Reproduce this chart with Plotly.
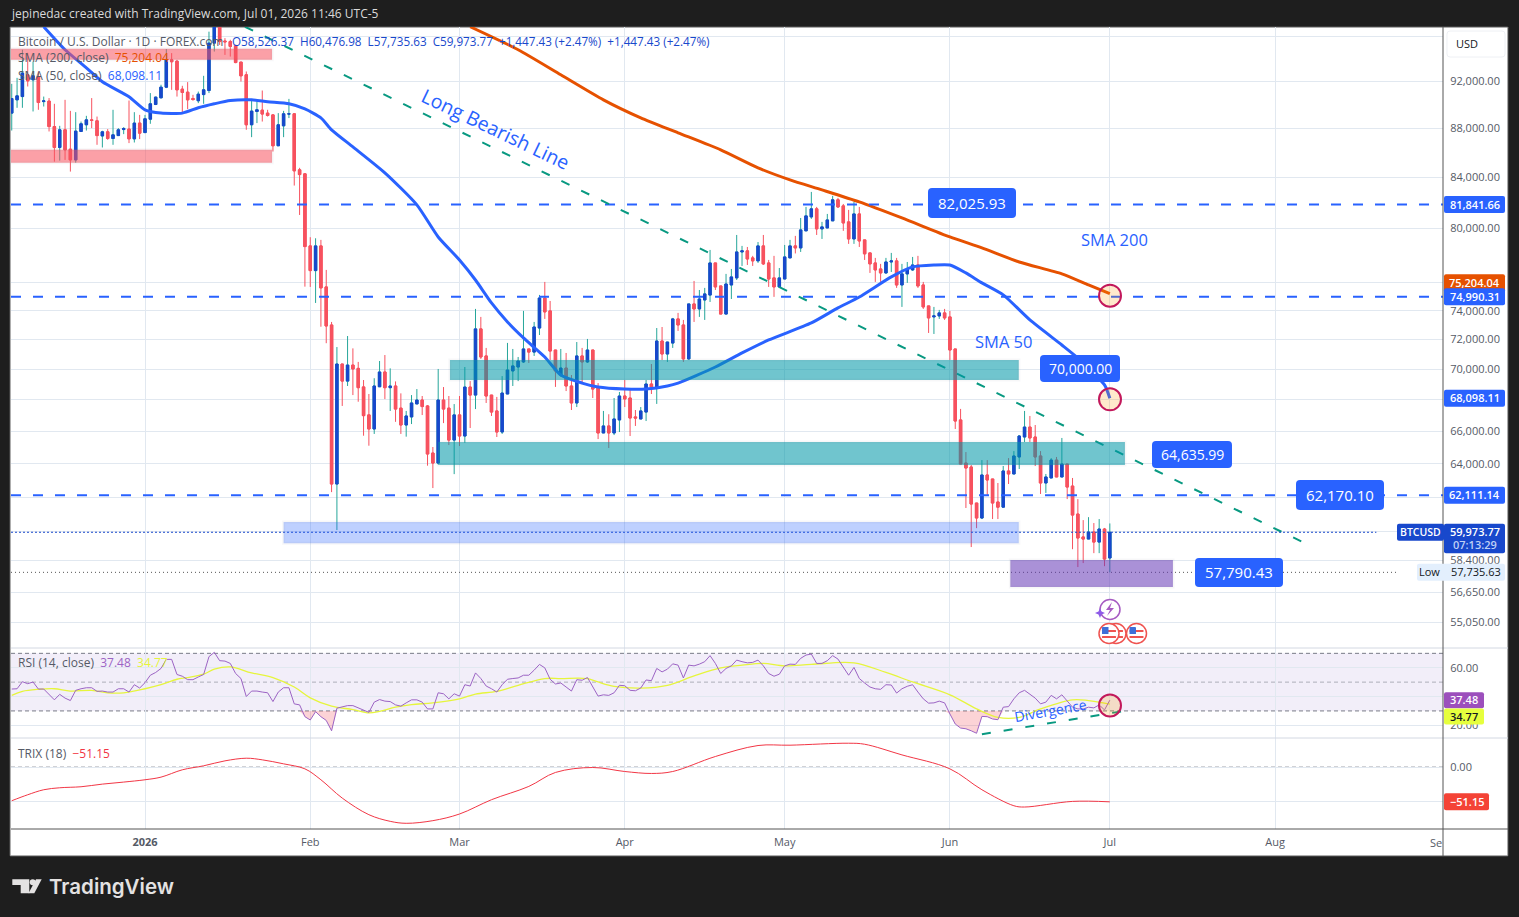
import numpy as np
import pandas as pd
import plotly.graph_objects as go

# daily bars, Dec 7 2025 to Jul 1 2026
dates = pd.date_range("2025-12-07", "2026-07-01", freq="D")

opens = [
    89140, 90270, 90550, 92440, 92000, 92290, 90120, 90160, 88010, 86280, 87740, 86140, 85270, 87600, 88160, 88570, 88490, 87230, 87570, 87020, 87260, 87760, 87800, 86990, 88300,
    87510, 88630, 89870, 90440, 91360, 93760, 93640, 91190, 90930, 90380, 90190, 90720, 91070, 95260, 97300, 95450, 95400, 95050, 93560, 92440, 88160, 89280, 89390, 89140, 88990, 86420, 88070, 89060, 89080, 84470, 84150,
    78590, 76770, 78590, 75590, 72910, 62700, 70260, 69130, 70190, 69970, 68750, 66950, 66060, 68760, 69730, 68700, 68810, 67380, 66310, 66820, 67650, 67900, 67520, 64570, 63960, 67900, 67380, 65370,
    66950, 65620, 68740, 68220, 72640, 70800, 68220, 67200, 65870, 68290, 69800, 70060, 70400, 71270, 71060, 72700, 74800, 73890, 71200, 69530, 69990, 68810, 67710, 70800, 70400, 71200, 68680, 65810, 66250, 65810, 66630,
    68160, 68030, 66820, 66690, 67130, 68940, 68740, 71810, 70930, 71670, 73330, 72910, 70600, 74380, 74030, 74660, 75010, 77330, 75660, 73670, 75730, 76240, 78140, 78220, 77700, 77480, 78590, 77330, 76240, 75590,
    76160, 77700, 78590, 78440, 79720, 80780, 81400, 79870, 79940, 80480, 82100, 81630, 80400, 79110, 81010, 79040, 78070, 77330, 76890, 76600, 77400, 77480, 75730, 76530, 76820, 77180, 75730, 74240, 73470, 73540, 73750,
    73470, 71270, 66630, 63960, 63720, 61580, 60710, 63240, 63000, 61640, 61340, 63480, 63300, 64330, 65560, 66180, 65560, 64390, 62760, 63060, 64140, 63120, 63900, 62580, 60940, 59630, 59510, 59910, 59340, 60080,
    58526.37,
]
highs = [
    91650, 92170, 94660, 94390, 93600, 92730, 90550, 90420, 89930, 88070, 90270, 89330, 89220, 88430, 88910, 90420, 88850, 87660, 87800, 89420, 87880, 87960, 90210, 89220, 88990,
    88990, 90850, 90550, 91570, 94720, 94360, 93760, 91480, 91800, 90700, 90980, 92350, 96300, 98000, 98000, 95710, 95560, 95110, 93560, 92730, 90270, 90120, 91070, 89420, 89060, 89140, 89330, 90350, 89140, 84630, 84200,
    79240, 79160, 79040, 76820, 73120, 71400, 70260, 72150, 71310, 70400, 69200, 68290, 69320, 70460, 70860, 69970, 69110, 68330, 67200, 68220, 68610, 68160, 67580, 64940, 69930, 68740, 68160, 67640,
    68160, 70060, 69130, 74030, 73470, 71340, 68220, 68100, 69460, 71680, 71270, 70730, 73890, 71270, 73120, 75020, 75950, 74590, 71200, 71270, 71000, 69530, 71740, 71340, 71950, 71200, 69000, 67200, 66990, 68030, 68420,
    69200, 68550, 67260, 67450, 69200, 70260, 72700, 72770, 71740, 73400, 73750, 73260, 74380, 76020, 75370, 75520, 78290, 77330, 75660, 76530, 76890, 79410, 78590, 78510, 77850, 78880, 79410, 77550, 77850, 76960,
    78660, 79040, 79340, 80700, 81550, 82720, 81550, 80400, 81010, 82410, 82250, 81780, 81320, 81940, 81550, 79040, 78070, 77700, 77260, 77700, 78070, 77700, 77260, 77400, 77770, 77850, 75950, 74240, 74170, 73960, 74030,
    73890, 71270, 67330, 64630, 63840, 61580, 64140, 64140, 63000, 62760, 63780, 64260, 64690, 65680, 67200, 66880, 66310, 64690, 63300, 64260, 64330, 65500, 63900, 63060, 61810, 60590, 60760, 60420, 60650, 60140,
    60476.98,
]
lows = [
    87680, 89590, 89590, 91420, 89280, 89420, 89700, 87600, 85130, 85210, 85270, 84330, 85050, 87600, 87680, 87880, 86500, 86280, 86910, 86500, 87240, 87380, 86640, 86690, 86970,
    87460, 88240, 89820, 90420, 91280, 91130, 90550, 89140, 89480, 90190, 89990, 89930, 90850, 94500, 95100, 94200, 94050, 93460, 91850, 87740, 87130, 88300, 88430, 88850, 85950, 86420, 87130, 88720, 83220, 80930, 75610,
    75590, 74450, 72790, 71660, 62220, 60020, 67520, 68810, 68220, 67790, 65640, 65020, 65750, 68760, 67960, 67200, 66510, 65750, 65580, 66370, 67650, 66940, 63800, 62460, 63880, 66430, 65060, 63290,
    65000, 65200, 66120, 67320, 70600, 67710, 66880, 65560, 65750, 68290, 68810, 69130, 70330, 70330, 70800, 72220, 73330, 70530, 68750, 69420, 68480, 67260, 67450, 69000, 70330, 68030, 65430, 65810, 64880, 65680, 65870,
    67450, 65620, 66250, 66690, 66560, 68290, 67650, 70530, 70400, 71340, 72500, 70400, 70530, 73120, 73470, 73260, 74520, 75370, 73670, 73670, 74730, 76090, 77110, 77180, 77110, 77330, 77180, 75590, 74880, 75590,
    76160, 77700, 78030, 78140, 79720, 80630, 79410, 79110, 79940, 80480, 81470, 79720, 78740, 78740, 78510, 77550, 76600, 75950, 75950, 76530, 76670, 75520, 74170, 75880, 76750, 75520, 74030, 72360, 72290, 73330, 73260,
    70530, 66060, 63900, 61290, 59060, 60130, 60650, 62050, 60650, 60650, 61340, 62700, 63300, 63600, 65250, 65250, 63780, 62110, 62170, 63060, 63120, 63120, 61810, 58940, 57950, 58170, 59510, 58720, 58720, 58000,
    57735.63,
]
closes = [
    90380, 90610, 92590, 91910, 92350, 90040, 90180, 88010, 86280, 87740, 86090, 85270, 87630, 88240, 88570, 88520, 87260, 87570, 87020, 87320, 87740, 87850, 86990, 88300, 87460,
    88660, 89930, 90500, 91360, 93760, 93590, 91130, 90900, 90270, 90300, 90760, 91130, 95260, 97500, 95400, 95380, 94960, 93520, 92350, 88160, 89310, 89420, 89060, 88940, 86420, 88160, 89080, 89080, 84390, 84090, 78540,
    76770, 78590, 75520, 72840, 62700, 70260, 69130, 70190, 69930, 68700, 66900, 66060, 68810, 69730, 68700, 68810, 67320, 66310, 66880, 67710, 67900, 67480, 64510, 63960, 67900, 67320, 65370, 66950,
    65620, 68740, 68220, 72640, 70730, 68160, 67130, 65870, 68350, 69860, 70130, 70460, 71270, 71060, 72770, 74800, 73820, 71130, 69800, 69990, 68810, 67710, 70800, 70400, 71200, 68610, 65810, 66250, 65810, 66690, 68160,
    67970, 66750, 66750, 67200, 68940, 68740, 71810, 70930, 71740, 73330, 72910, 70600, 74380, 74030, 74730, 75090, 77330, 75590, 73670, 75800, 76310, 78140, 78220, 77620, 77480, 78590, 77260, 76160, 75590, 76240,
    77770, 78590, 78440, 79790, 80860, 81400, 79870, 80020, 80550, 82100, 81550, 80320, 79110, 81010, 78960, 78000, 77260, 76820, 76600, 77400, 77480, 75730, 76530, 76890, 77180, 75660, 74170, 73400, 73540, 73750, 73400,
    71200, 66560, 63900, 63660, 61520, 60710, 63240, 62940, 61580, 61340, 63480, 63300, 64390, 65620, 66180, 65500, 64330, 62760, 63120, 64140, 63120, 63900, 62520, 60880, 59570, 59510, 59910, 59340, 60080, 58390,
    59973.77,
]

# moving averages, read at the bends of each curve
sma50_dates = ["2025-12-13", "2025-12-17", "2025-12-21", "2025-12-24", "2025-12-29", "2026-01-01", "2026-01-04", "2026-01-08", "2026-01-11", "2026-01-14", "2026-01-17", "2026-01-21", "2026-01-24", "2026-01-28", "2026-01-31", "2026-02-03", "2026-02-05", "2026-02-09", "2026-02-15", "2026-02-21", "2026-02-25", "2026-03-01", "2026-03-04", "2026-03-07", "2026-03-10", "2026-03-13", "2026-03-17", "2026-03-20", "2026-03-24", "2026-03-27", "2026-04-01", "2026-04-05", "2026-04-09", "2026-04-11", "2026-04-18", "2026-04-23", "2026-04-28", "2026-05-06", "2026-05-11", "2026-05-15", "2026-05-21", "2026-05-25", "2026-05-29", "2026-06-01", "2026-06-04", "2026-06-07", "2026-06-11", "2026-06-16", "2026-06-22", "2026-06-25", "2026-06-30", "2026-07-01"]
sma50 = [96750, 94660, 93050, 91830, 90530, 89420, 89140, 89140, 89590, 89930, 90210, 90270, 90100, 89930, 89500, 88740, 87740, 86330, 84230, 81710, 79260, 77550, 76090, 74450, 73120, 72020, 70730, 69530, 69000, 68740, 68610, 68610, 68810, 69000, 70060, 71000, 71880, 73050, 74100, 74870, 76310, 77040, 77180, 77180, 76600, 75880, 75020, 73260, 71540, 70660, 68880, 68098.11]

sma200_dates = ["2026-03-03", "2026-03-12", "2026-03-20", "2026-03-28", "2026-04-04", "2026-04-11", "2026-04-19", "2026-04-26", "2026-05-02", "2026-05-08", "2026-05-15", "2026-05-23", "2026-06-01", "2026-06-07", "2026-06-14", "2026-06-22", "2026-06-27", "2026-07-01"]
sma200 = [96750, 94660, 92440, 90270, 88740, 87490, 86085, 84630, 83670, 82880, 81940, 80700, 79260, 78440, 77400, 76530, 75730, 75204.04]

rsi = [
    45.2, 45.4, 50.3, 48.9, 50.1, 45.2, 45.2, 41.5, 37.7, 41.5, 38.9, 37.2, 44.3, 45.4, 46.1, 46.1, 43.6, 43.8, 43.1, 43.1, 45.4, 45.4, 43.1, 48.2, 45.9,
    49.6, 54.8, 56.7, 59.5, 65.8, 65.8, 55.3, 54.1, 51.7, 51.7, 53.6, 55.3, 67.7, 70.7, 64.9, 64.6, 63.0, 56.0, 52.5, 40.0, 43.8, 43.8, 43.1, 42.6, 36.5, 43.1, 46.1, 46.1, 34.9, 34.2, 26.0,
    23.7, 29.5, 26.0, 23.4, 16.2, 31.9, 33.0, 33.7, 33.7, 32.1, 30.2, 29.0, 36.1, 37.9, 36.8, 36.5, 34.2, 33.3, 35.6, 37.7, 37.7, 36.1, 31.4, 31.4, 42.6, 41.9, 38.4, 41.9,
    40.3, 48.2, 47.3, 56.4, 52.5, 47.3, 45.4, 43.1, 48.2, 52.0, 52.5, 52.9, 54.8, 54.8, 58.3, 62.3, 59.9, 52.0, 48.7, 49.4, 46.6, 43.8, 51.7, 51.3, 53.2, 46.6, 40.3, 41.2, 40.8, 42.6, 47.8,
    47.5, 44.3, 44.0, 45.9, 51.5, 51.0, 59.5, 57.1, 59.0, 62.7, 61.8, 52.9, 61.8, 61.3, 62.5, 64.2, 68.4, 63.0, 56.0, 59.5, 61.3, 65.3, 64.2, 63.4, 63.7, 65.3, 61.3, 56.0, 54.1, 55.5,
    61.3, 62.5, 62.3, 66.5, 68.8, 69.5, 63.0, 63.0, 64.9, 68.4, 66.0, 60.6, 54.8, 60.2, 52.5, 49.4, 46.6, 45.4, 45.0, 48.2, 48.0, 42.4, 45.4, 47.1, 48.2, 43.1, 38.4, 35.4, 35.6, 36.8, 35.6,
    27.9, 20.9, 18.1, 17.6, 16.2, 14.5, 26.2, 26.0, 24.4, 23.9, 32.6, 33.0, 38.4, 42.6, 44.3, 41.9, 38.9, 34.9, 36.1, 40.8, 38.4, 41.2, 37.2, 32.6, 31.4, 31.4, 32.6, 32.1, 34.2, 30.7,
    37.48,
]

rsi_ma_dates = ["2025-12-07", "2025-12-09", "2025-12-12", "2025-12-15", "2025-12-18", "2025-12-22", "2025-12-25", "2025-12-28", "2026-01-01", "2026-01-04", "2026-01-07", "2026-01-09", "2026-01-12", "2026-01-14", "2026-01-17", "2026-01-21", "2026-01-25", "2026-01-29", "2026-02-01", "2026-02-05", "2026-02-09", "2026-02-12", "2026-02-14", "2026-02-17", "2026-02-20", "2026-02-24", "2026-03-01", "2026-03-04", "2026-03-08", "2026-03-12", "2026-03-17", "2026-03-20", "2026-03-25", "2026-03-27", "2026-03-30", "2026-04-04", "2026-04-09", "2026-04-14", "2026-04-19", "2026-04-23", "2026-04-27", "2026-05-01", "2026-05-06", "2026-05-14", "2026-05-20", "2026-05-25", "2026-06-01", "2026-06-06", "2026-06-10", "2026-06-14", "2026-06-18", "2026-06-24", "2026-06-27", "2026-07-01"]
rsi_ma = [40.8, 43.6, 45.0, 45.4, 43.8, 44.3, 42.6, 42.6, 45.4, 48.2, 52.0, 53.2, 55.5, 59.0, 60.6, 56.4, 53.2, 46.6, 39.1, 33.3, 30.9, 28.6, 29.7, 32.6, 34.4, 35.6, 38.4, 41.7, 43.6, 47.8, 52.5, 52.5, 52.5, 50.1, 47.1, 45.9, 47.8, 54.3, 59.9, 61.8, 63.0, 61.3, 62.3, 63.4, 56.7, 50.1, 41.2, 31.4, 25.5, 25.5, 31.4, 37.7, 37.2, 34.77]

trix_dates = ["2025-12-07", "2025-12-10", "2025-12-13", "2025-12-16", "2025-12-20", "2025-12-24", "2025-12-28", "2026-01-01", "2026-01-04", "2026-01-08", "2026-01-12", "2026-01-16", "2026-01-20", "2026-01-23", "2026-01-27", "2026-01-31", "2026-02-03", "2026-02-07", "2026-02-12", "2026-02-16", "2026-02-19", "2026-02-24", "2026-03-01", "2026-03-07", "2026-03-14", "2026-03-19", "2026-03-26", "2026-04-01", "2026-04-06", "2026-04-10", "2026-04-18", "2026-04-26", "2026-05-02", "2026-05-13", "2026-05-16", "2026-05-23", "2026-06-01", "2026-06-07", "2026-06-13", "2026-06-15", "2026-06-24", "2026-07-01"]
trix = [-49.5, -40.7, -33.3, -30.4, -28.9, -25.0, -22.0, -18.6, -14.7, -3.9, 2.0, 9.3, 13.2, 10.8, 4.9, -2.5, -18.6, -45.6, -70.1, -79.9, -82.8, -78.9, -69.1, -48.0, -28.4, -7.8, -0.5, -6.4, -9.3, -6.4, 15.7, 31.9, 32.4, 35.3, 33.8, 18.1, -2.5, -33.3, -56.9, -58.8, -50.5, -51.15]

# axis ticks
month_ticks = ["2026-01-01", "2026-02-01", "2026-03-01", "2026-04-01", "2026-05-01", "2026-06-01", "2026-07-01", "2026-08-01"]
month_labels = ["<b>2026</b>", "Feb", "Mar", "Apr", "May", "Jun", "Jul", "Aug"]
price_ticks = [96000, 92000, 88000, 84000, 80000, 76000, 74000, 72000, 70000, 68000, 66000, 64000, 62000, 60000, 58400, 56650, 55050]
price_labels = ["", "92,000.00", "88,000.00", "84,000.00", "80,000.00", "", "74,000.00", "72,000.00", "70,000.00", "", "66,000.00", "64,000.00", "", "", "58,400.00", "56,650.00", "55,050.00"]

# drawn levels and zones
level_prices = [81841.66, 74990.31, 62111.14]
last_price = 59973.77
low_price = 57735.63
trend_x = ["2026-01-19 18:00", "2026-08-06 14:00"]
trend_y = [96750, 59280]
div_x = ["2026-06-07", "2026-07-03 08:00"]
div_y = [13.8, 29.8]
zones = [
    ("2025-12-06", "2026-01-24 20:00", 93763, 94750, "rgba(247,82,95,0.55)"),
    ("2025-12-06", "2026-01-24 20:00", 85030, 86085, "rgba(247,82,95,0.55)"),
    ("2026-02-27 05:00", "2026-06-13 22:00", 69202, 70528, "rgba(0,151,167,0.56)"),
    ("2026-02-25", "2026-07-03 20:00", 63840, 65250, "rgba(0,151,167,0.56)"),
    ("2026-01-27", "2026-06-13 22:00", 59280, 60480, "rgba(41,98,255,0.3)"),
    ("2026-06-12 08:00", "2026-07-12 20:00", 56860, 58334, "rgba(103,58,183,0.56)"),
]

# prices above were read with a scale about a pixel off, this puts them back
READ_FIX = 1.0013


def refit(values):
    # the last value of a series is printed on the chart, so it stays exact
    return [v * READ_FIX for v in values[:-1]] + [values[-1]]


# layout of the page, pixels
PLOT_L, PLOT_R, PLOT_T, PLOT_B = 11, 1443, 27, 829
PRICE_B, RSI_B = 648, 738
PRICE_TOP, PRICE_BOT = 96853, 53737
RSI_TOP, RSI_BOT = 73.7, 11.2
TRIX_TOP, TRIX_BOT = 43.0, -91.2
X_LEFT, X_RIGHT = "2025-12-06 20:40", "2026-09-01 12:00"
LAST_BAR_X = 1110

BLUE = "#2962FF"
DARK_BLUE = "#1848CC"
RED = "#F7525F"
TEAL = "#26A69A"
LINE_TEAL = "#089981"
ORANGE = "#E65100"
GRID = "#E1E8F0"
TXT = "#555A66"
FONT = "Open Sans"


def px(x):
    return (x - PLOT_L) / (PLOT_R - PLOT_L)


def py(y):
    return (PLOT_B - y) / (PLOT_B - PLOT_T)


def price_y(p):
    span = np.log10(PRICE_TOP) - np.log10(PRICE_BOT)
    return PLOT_T + (np.log10(PRICE_TOP) - np.log10(p)) / span * (PRICE_B - PLOT_T)


def rsi_y(v):
    return PRICE_B + (RSI_TOP - v) / (RSI_TOP - RSI_BOT) * (RSI_B - PRICE_B)


def trix_y(v):
    return RSI_B + (TRIX_TOP - v) / (TRIX_TOP - TRIX_BOT) * (PLOT_B - RSI_B)


def box_path(x0, y0, x1, y1, r):
    pts = [
        ("M", x0 + r, y0), ("L", x1 - r, y0), ("Q", x1, y0, x1, y0 + r), ("L", x1, y1 - r),
        ("Q", x1, y1, x1 - r, y1), ("L", x0 + r, y1), ("Q", x0, y1, x0, y1 - r), ("L", x0, y0 + r),
        ("Q", x0, y0, x0 + r, y0),
    ]
    out = []
    for p in pts:
        vals = p[1:]
        coords = []
        for i in range(0, len(vals), 2):
            coords.append(f"{px(vals[i]):.5f},{py(vals[i + 1]):.5f}")
        out.append(p[0] + " ".join(coords))
    return " ".join(out) + " Z"


def poly_path(points):
    return "M" + " L".join(f"{px(a):.5f},{py(b):.5f}" for a, b in points) + " Z"


shapes = []
notes = []


def paper_shape(path, fill, line=None, width=0, layer="above"):
    shapes.append(dict(type="path", xref="paper", yref="paper", path=path, fillcolor=fill,
                       line=dict(color=line or fill, width=width), layer=layer))


def paper_line(x0, y0, x1, y1, color, width=1, dash="solid", layer="above"):
    shapes.append(dict(type="line", xref="paper", yref="paper", x0=px(x0), y0=py(y0), x1=px(x1), y1=py(y1),
                       line=dict(color=color, width=width, dash=dash), layer=layer))


def paper_circle(cx, cy, r, fill, line, width):
    shapes.append(dict(type="circle", xref="paper", yref="paper", x0=px(cx - r), x1=px(cx + r), y0=py(cy + r), y1=py(cy - r),
                       fillcolor=fill, line=dict(color=line, width=width), layer="above"))


def text(x, y, s, size=11, color=TXT, anchor="left", angle=0, weight=None, family=FONT):
    # annotations carry about a pixel of padding
    if anchor == "left":
        x = x - 1.5
    notes.append(dict(xref="paper", yref="paper", x=px(x), y=py(y - 1), text=s, showarrow=False, xanchor=anchor,
                      yanchor="middle", textangle=angle, borderpad=0,
                      font=dict(family=family, size=size, color=color, weight=weight)))


def badge(x0, y0, x1, y1, s, fill, color="white", size=11, r=2, weight=600):
    paper_shape(box_path(x0, y0, x1, y1, r), fill)
    text((x0 + x1) / 2, (y0 + y1) / 2 + 0.5, s, size=size, color=color, anchor="center", weight=weight)


# white chart card on the dark page
paper_shape(box_path(10, 27, 1508, 856, 0.5), "white", "#5A5A5A", 1, layer="below")

dates_str = dates.strftime("%Y-%m-%d").tolist()
o_fit, h_fit, l_fit, c_fit = refit(opens), refit(highs), refit(lows), refit(closes)
body_top = [max(o, c) for o, c in zip(o_fit, c_fit)]
body_bot = [min(o, c) for o, c in zip(o_fit, c_fit)]

fig = go.Figure()

# wicks, bodies are painted over them
fig.add_trace(go.Candlestick(
    x=dates_str, open=o_fit, high=h_fit, low=l_fit, close=c_fit, yaxis="y", xaxis="x",
    increasing=dict(line=dict(color=TEAL, width=1), fillcolor=DARK_BLUE),
    decreasing=dict(line=dict(color=RED, width=1), fillcolor=RED),
    whiskerwidth=0, hoverinfo="skip", showlegend=False,
))
fig.add_trace(go.Candlestick(
    x=dates_str, open=o_fit, high=body_top, low=body_bot, close=c_fit, yaxis="y", xaxis="x",
    increasing=dict(line=dict(color=DARK_BLUE, width=1), fillcolor=DARK_BLUE),
    decreasing=dict(line=dict(color=RED, width=1), fillcolor=RED),
    whiskerwidth=0, hoverinfo="skip", showlegend=False,
))

fig.add_trace(go.Scatter(x=sma50_dates, y=refit(sma50), mode="lines", yaxis="y", line=dict(color=BLUE, width=3, shape="spline", smoothing=0.6), hoverinfo="skip", showlegend=False))
fig.add_trace(go.Scatter(x=sma200_dates, y=refit(sma200), mode="lines", yaxis="y", line=dict(color=ORANGE, width=3, shape="spline", smoothing=0.6), hoverinfo="skip", showlegend=False))

for level in level_prices:
    fig.add_trace(go.Scatter(x=[X_LEFT, X_RIGHT], y=[level, level], mode="lines", yaxis="y", line=dict(color=BLUE, width=2, dash="10px,12px"), hoverinfo="skip", showlegend=False))
fig.add_trace(go.Scatter(x=trend_x, y=[v * READ_FIX for v in trend_y], mode="lines", yaxis="y", line=dict(color=LINE_TEAL, width=2, dash="9px,13px"), hoverinfo="skip", showlegend=False))
fig.add_trace(go.Scatter(x=[X_LEFT, "2026-08-20"], y=[last_price, last_price], mode="lines", yaxis="y", line=dict(color=DARK_BLUE, width=1, dash="2px,2px"), hoverinfo="skip", showlegend=False))
fig.add_trace(go.Scatter(x=[X_LEFT, "2026-08-24"], y=[low_price, low_price], mode="lines", yaxis="y", line=dict(color="#555555", width=1, dash="1px,3px"), hoverinfo="skip", showlegend=False))

# RSI pane, shading under the 30 level
rsi_low = [min(v, 30) for v in rsi]
fig.add_trace(go.Scatter(x=dates_str, y=[30] * len(rsi), mode="lines", yaxis="y2", line=dict(width=0), hoverinfo="skip", showlegend=False))
fig.add_trace(go.Scatter(x=dates_str, y=rsi_low, mode="lines", yaxis="y2", line=dict(width=0), fill="tonexty", fillcolor="rgba(242,54,69,0.22)", hoverinfo="skip", showlegend=False))
fig.add_trace(go.Scatter(x=rsi_ma_dates, y=rsi_ma, mode="lines", yaxis="y2", line=dict(color="#E6F53C", width=1.3, shape="spline"), hoverinfo="skip", showlegend=False))
fig.add_trace(go.Scatter(x=dates_str, y=rsi, mode="lines", yaxis="y2", line=dict(color="#9C64C4", width=1), hoverinfo="skip", showlegend=False))
fig.add_trace(go.Scatter(x=div_x, y=div_y, mode="lines", yaxis="y2", line=dict(color=LINE_TEAL, width=2, dash="9px,13px"), hoverinfo="skip", showlegend=False))

# TRIX pane
fig.add_trace(go.Scatter(x=trix_dates, y=trix, mode="lines", yaxis="y3", line=dict(color="#F23645", width=1, shape="spline"), hoverinfo="skip", showlegend=False))

# zones sit over the bars
for x0, x1, y0, y1, color in zones:
    shapes.append(dict(type="rect", xref="x", yref="y", x0=x0, x1=x1, y0=y0 * READ_FIX, y1=y1 * READ_FIX, fillcolor=color,
                       line=dict(color="rgba(120,123,134,0.06)", width=3), layer="above"))

# RSI band and levels
shapes.append(dict(type="rect", xref="x", yref="y2", x0=X_LEFT, x1=X_RIGHT, y0=30, y1=70, fillcolor="rgba(126,87,194,0.1)", line=dict(width=0), layer="below"))
for lvl, col in [(70, "#787B86"), (50, "rgba(120,123,134,0.55)"), (30, "#787B86")]:
    shapes.append(dict(type="line", xref="x", yref="y2", x0=X_LEFT, x1=X_RIGHT, y0=lvl, y1=lvl, line=dict(color=col, width=1, dash="4px,3px"), layer="below"))
shapes.append(dict(type="line", xref="x", yref="y3", x0=X_LEFT, x1=X_RIGHT, y0=0, y1=0, line=dict(color="#787B86", width=1, dash="4px,3px"), layer="below"))

# circles on the last bar
for cy in [price_y(74990.31) - 1, price_y(68098.11) + 1, rsi_y(33.8)]:
    paper_circle(LAST_BAR_X, cy, 11, "rgba(255,152,0,0.2)", "#C2185B", 2)

# pane and axis borders
paper_line(11, 648, 1508, 648, "#D3D8E2")
paper_line(11, 738, 1508, 738, "#D3D8E2")
paper_line(11, 829, 1508, 829, "#555555")
paper_line(1443, 27, 1443, 856, "#555555")

# callouts
badge(928, 188, 1016, 218, "82,025.93", BLUE, size=15, r=4, weight=500)
badge(1040, 355, 1120, 382, "70,000.00", BLUE, size=14, r=4, weight=500)
badge(1152, 441, 1232, 468, "64,635.99", BLUE, size=14, r=4, weight=500)
badge(1296, 480, 1384, 510, "62,170.10", BLUE, size=15, r=4, weight=500)
badge(1195, 558, 1283, 587, "57,790.43", BLUE, size=15, r=4, weight=500)

text(1114, 241, "SMA 200", size=16.5, color=BLUE, anchor="center")
text(1003, 342, "SMA 50", size=16.5, color=BLUE, anchor="center")
text(495, 130, "Long Bearish Line", size=19.5, color=BLUE, anchor="center", angle=25.5)
text(1050, 711, "Divergence", size=14, color=BLUE, anchor="center", angle=-10)

# price scale badges
for value, fill, shift in [(81841.66, BLUE, 0), (75204.04, ORANGE, -11), (74990.31, BLUE, 0), (68098.11, BLUE, 0), (62111.14, BLUE, 0)]:
    yc = price_y(value) + shift
    badge(1444, yc - 8.5, 1505, yc + 8.5, f"{value:,.2f}", fill)

yc = price_y(last_price)
badge(1397, yc - 8.5, 1444, yc + 8.5, "BTCUSD", DARK_BLUE, size=10.5)
paper_shape(box_path(1444, yc - 8.5, 1505, yc + 21, 2), DARK_BLUE)
text(1474.5, yc + 0.5, f"{last_price:,.2f}", color="white", anchor="center", weight=600)
text(1474.5, yc + 13.5, "07:13:29", color="#BFD0F5", anchor="center", weight=600)

yc = price_y(low_price)
paper_shape(box_path(1417, yc - 8.5, 1505, yc + 8.5, 2), "#E3EFFD")
text(1429, yc + 0.5, "Low", color="#131722", anchor="center")
text(1476, yc + 0.5, f"{low_price:,.2f}", color="#131722", anchor="center", weight=500)

badge(1444, rsi_y(37.48) - 8, 1484, rsi_y(37.48) + 8, "37.48", "#9C4FBC")
badge(1444, rsi_y(34.77) + 4.5, 1484, rsi_y(34.77) + 20.5, "34.77", "#E6FF3D", color="#131722")
badge(1444, trix_y(-51.15) - 8.5, 1489, trix_y(-51.15) + 8.5, "−51.15", "#F44336")

# currency button
paper_shape(box_path(1447, 31, 1505, 57, 3), "white", "#EEF0F4", 1)
text(1456, 45, "USD", color="#131722")

# clipped label at the right end of the time scale
text(1443, 843, "Se", anchor="right")

# legends
text(18, 42, "Bitcoin / U.S. Dollar · 1D · FOREX.com", size=12)
text(232, 42, "O58,526.37  H60,476.98  L57,735.63  C59,973.77  +1,447.43 (+2.47%)  +1,447.43 (+2.47%)", size=11.7, color=DARK_BLUE)
text(18, 59, f"SMA (200, close)  <span style='color:{ORANGE}'>75,204.04</span>", size=12)
text(18, 76, f"SMA (50, close)  <span style='color:{BLUE}'>68,098.11</span>", size=12)
text(18, 663, "RSI (14, close)  <span style='color:#9C64C4'>37.48</span>  <span style='color:#E6F53C'>34.77</span>", size=12)
text(18, 754, "TRIX (18)  <span style='color:#F23645'>−51.15</span>", size=12)

# event markers under the last bar
paper_circle(1110, 609.5, 10, "white", "#A65BC2", 1.5)
paper_shape(poly_path([(1112, 602), (1106, 610), (1110, 610), (1107, 616), (1114, 608), (1110, 608)]), "#A65BC2")
paper_shape(poly_path([(1100, 608), (1101.5, 611.5), (1105, 613), (1101.5, 614.5), (1100, 618), (1098.5, 614.5), (1095, 613), (1098.5, 611.5)]), "#8E5BE8")
for cx in [1116, 1109, 1136.5]:
    paper_circle(cx, 633.5, 10, "white", "#EF5350", 1.5)
    paper_shape(box_path(cx - 7, 630, cx + 7, 632, 0.5), "#EF5350")
    paper_shape(box_path(cx - 7, 636, cx + 7, 638, 0.5), "#EF5350")
    paper_shape(box_path(cx - 7, 627, cx - 0.5, 634, 0.5), "#3F6FD8")

# page header and footer
text(11, 14, "jepinedac created with TradingView.com, Jul 01, 2026 11:46 UTC-5", size=12, color="#DADADA", weight=500)
logo = "#E4E2E2"
paper_shape(poly_path([(12.3, 879.3), (29.3, 879.3), (29.3, 893.3), (20.7, 893.3), (20.7, 885), (12.3, 885)]), logo)
paper_circle(32.7, 882.3, 3, logo, logo, 0)
paper_shape(poly_path([(36, 879.3), (41.7, 879.3), (34.3, 893.3), (28.5, 893.3)]), logo)
text(49, 887, "TradingView", size=20.5, color=logo, weight=600, family="Inter")

axis_font = dict(family=FONT, size=11, color=TXT)
fig.update_layout(
    width=1519,
    height=917,
    margin=dict(l=PLOT_L, r=1519 - PLOT_R, t=PLOT_T, b=917 - PLOT_B, pad=0),
    paper_bgcolor="#1E1E1E",
    plot_bgcolor="white",
    showlegend=False,
    hovermode=False,
    boxgap=0.35,
    shapes=shapes,
    annotations=notes,
    xaxis=dict(
        type="date", range=[X_LEFT, X_RIGHT], rangeslider=dict(visible=False), anchor="y3",
        tickmode="array", tickvals=month_ticks, ticktext=month_labels, tickfont=axis_font,
        showgrid=True, gridcolor=GRID, gridwidth=1, ticks="outside", ticklen=3, tickcolor="white",
        showline=False, zeroline=False,
    ),
    yaxis=dict(
        type="log", side="right", anchor="x", domain=[(PLOT_B - PRICE_B) / (PLOT_B - PLOT_T), 1],
        range=[np.log10(PRICE_BOT), np.log10(PRICE_TOP)],
        tickmode="array", tickvals=price_ticks, ticktext=price_labels, tickfont=axis_font,
        showgrid=True, gridcolor=GRID, gridwidth=1, ticks="outside", ticklen=4, tickcolor="white",
        showline=False, zeroline=False,
    ),
    yaxis2=dict(
        side="right", anchor="x", domain=[(PLOT_B - RSI_B) / (PLOT_B - PLOT_T), (PLOT_B - PRICE_B) / (PLOT_B - PLOT_T)],
        range=[RSI_BOT, RSI_TOP], tickmode="array", tickvals=[60, 40, 20], ticktext=["60.00", "", "20.00"], tickfont=axis_font,
        showgrid=True, gridcolor=GRID, gridwidth=1, ticks="outside", ticklen=4, tickcolor="white",
        showline=False, zeroline=False,
    ),
    yaxis3=dict(
        side="right", anchor="x", domain=[0, (PLOT_B - RSI_B) / (PLOT_B - PLOT_T)],
        range=[TRIX_BOT, TRIX_TOP], tickmode="array", tickvals=[0, -50], ticktext=["0.00", ""], tickfont=axis_font,
        showgrid=True, gridcolor=GRID, gridwidth=1, ticks="outside", ticklen=4, tickcolor="white",
        showline=False, zeroline=False,
    ),
)

fig.write_html("out.html", config=dict(displayModeBar=False), post_script="document.body.style.margin='0';document.body.style.overflow='hidden';")
